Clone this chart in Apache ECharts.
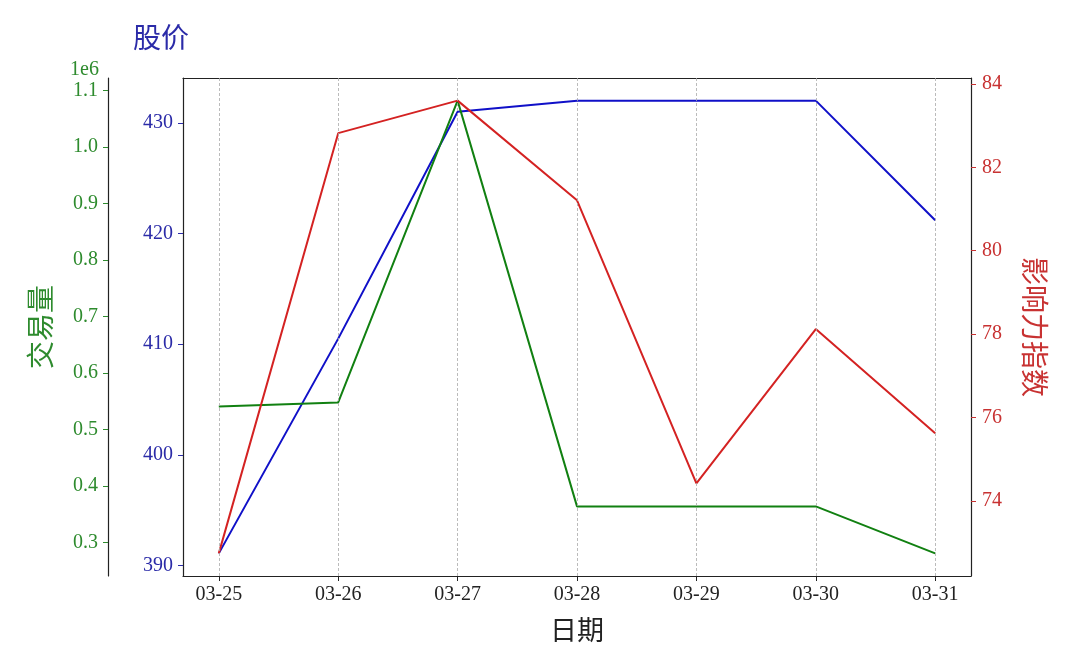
<!DOCTYPE html>
<html><head><meta charset="utf-8">
<script src="https://cdn.jsdelivr.net/npm/echarts@6/dist/echarts.min.js"></script>
<style>html,body{margin:0;padding:0;background:#fff}#c{width:1080px;height:648px}</style>
</head><body><div id="c"></div>
<script>
const categories = ['03-25','03-26','03-27','03-28','03-29','03-30','03-31'];
const price = [391.1, 410.5, 431.0, 432.0, 432.0, 432.0, 421.2];
const volume = [540700, 547800, 1082300, 363700, 363700, 363700, 280500];
const influence = [72.74, 82.82, 83.60, 81.21, 74.42, 78.12, 75.62];
const priceTicks = [390, 400, 410, 420, 430];
const volumeTicks = [300000, 400000, 500000, 600000, 700000, 800000, 900000, 1000000, 1100000];
const influenceTicks = [74, 76, 78, 80, 82, 84];

const NUM = "'Liberation Serif','Noto Sans CJK SC',serif";
const CJK = "'Noto Sans CJK SC',sans-serif";
const BLUE = '#1010c8', BLUE_T = '#2b2ba8';
const GREEN = '#118011', GREEN_T = '#2e8b2e';
const RED = '#d42222', RED_T = '#c83232';
const idx = categories.map((_, i) => i);
const pairs = arr => arr.map((v, i) => [i, v]);
function pad(vals, f = 0.05) { const mn = Math.min(...vals), mx = Math.max(...vals), r = mx - mn; return [mn - r * f, mx + r * f]; }
const pR = pad(price), vR = pad(volume), iR = pad(influence);
const LS = { color: '#222', width: 1.2 };

const chart = echarts.init(document.getElementById('c'));
chart.setOption({
  animation: false,
  backgroundColor: '#fff',
  title: [
    { text: '股价', left: 128, top: 18, textStyle: { color: BLUE_T, fontFamily: CJK, fontSize: 28, fontWeight: 'normal' } },
    { text: '1e6', left: 65, top: 55, textStyle: { color: GREEN_T, fontFamily: NUM, fontSize: 20, fontWeight: 'normal' } }
  ],
  grid: { left: 183, right: 109, top: 78, bottom: 72, containLabel: false },
  xAxis: [
    {
      type: 'value', min: -0.3, max: 6.3, position: 'bottom',
      name: '日期', nameLocation: 'middle', nameGap: 40,
      nameTextStyle: { fontFamily: CJK, fontSize: 27, color: '#222' },
      axisLine: { show: true, onZero: false, lineStyle: LS },
      axisTick: { show: true, length: 5, customValues: idx, lineStyle: { color: '#222' } },
      axisLabel: { customValues: idx, margin: 9, fontFamily: NUM, fontSize: 20, color: '#222', formatter: v => categories[Math.round(v)] },
      splitLine: { show: false }
    },
    {
      type: 'value', min: -0.3, max: 6.3, position: 'top',
      axisLine: { show: true, onZero: false, lineStyle: LS },
      axisTick: { show: false }, axisLabel: { show: false }, splitLine: { show: false }
    }
  ],
  yAxis: [
    {
      type: 'value', position: 'left', min: pR[0], max: pR[1],
      axisLine: { show: true, onZero: false, lineStyle: LS },
      axisTick: { show: true, length: 5, customValues: priceTicks, lineStyle: { color: BLUE_T } },
      axisLabel: { customValues: priceTicks, margin: 10, fontFamily: NUM, fontSize: 20, color: BLUE_T },
      splitLine: { show: false }
    },
    {
      type: 'value', position: 'right', min: iR[0], max: iR[1],
      name: '影响力指数', nameLocation: 'middle', nameGap: 50, nameRotate: -90,
      nameTextStyle: { fontFamily: CJK, fontSize: 28, color: RED_T },
      axisLine: { show: true, onZero: false, lineStyle: LS },
      axisTick: { show: true, length: 5, customValues: influenceTicks, lineStyle: { color: RED_T } },
      axisLabel: { customValues: influenceTicks, margin: 11, fontFamily: NUM, fontSize: 20, color: RED_T },
      splitLine: { show: false }
    },
    {
      type: 'value', position: 'left', offset: 75, min: vR[0], max: vR[1],
      name: '交易量', nameLocation: 'middle', nameGap: 54, nameRotate: 90,
      nameTextStyle: { fontFamily: CJK, fontSize: 28, color: GREEN_T },
      axisLine: { show: true, onZero: false, lineStyle: LS },
      axisTick: { show: true, length: 5, customValues: volumeTicks, lineStyle: { color: GREEN_T } },
      axisLabel: { customValues: volumeTicks, margin: 10, fontFamily: NUM, fontSize: 20, color: GREEN_T, formatter: v => (v / 1e6).toFixed(1) },
      splitLine: { show: false }
    }
  ],
  series: [
    {
      type: 'line', xAxisIndex: 0, yAxisIndex: 0, data: [], z: 1, silent: true,
      markLine: {
        silent: true, symbol: 'none', label: { show: false },
        lineStyle: { color: '#aaa', type: [3, 2], width: 0.8 },
        data: idx.map(i => ({ xAxis: i }))
      }
    },
    { name: '股价', type: 'line', xAxisIndex: 0, yAxisIndex: 0, data: pairs(price), showSymbol: false, z: 3, lineStyle: { color: BLUE, width: 2 }, itemStyle: { color: BLUE } },
    { name: '交易量', type: 'line', xAxisIndex: 0, yAxisIndex: 2, data: pairs(volume), showSymbol: false, z: 3, lineStyle: { color: GREEN, width: 2 }, itemStyle: { color: GREEN } },
    { name: '影响力指数', type: 'line', xAxisIndex: 0, yAxisIndex: 1, data: pairs(influence), showSymbol: false, z: 3, lineStyle: { color: RED, width: 2 }, itemStyle: { color: RED } }
  ]
});
</script></body></html>
